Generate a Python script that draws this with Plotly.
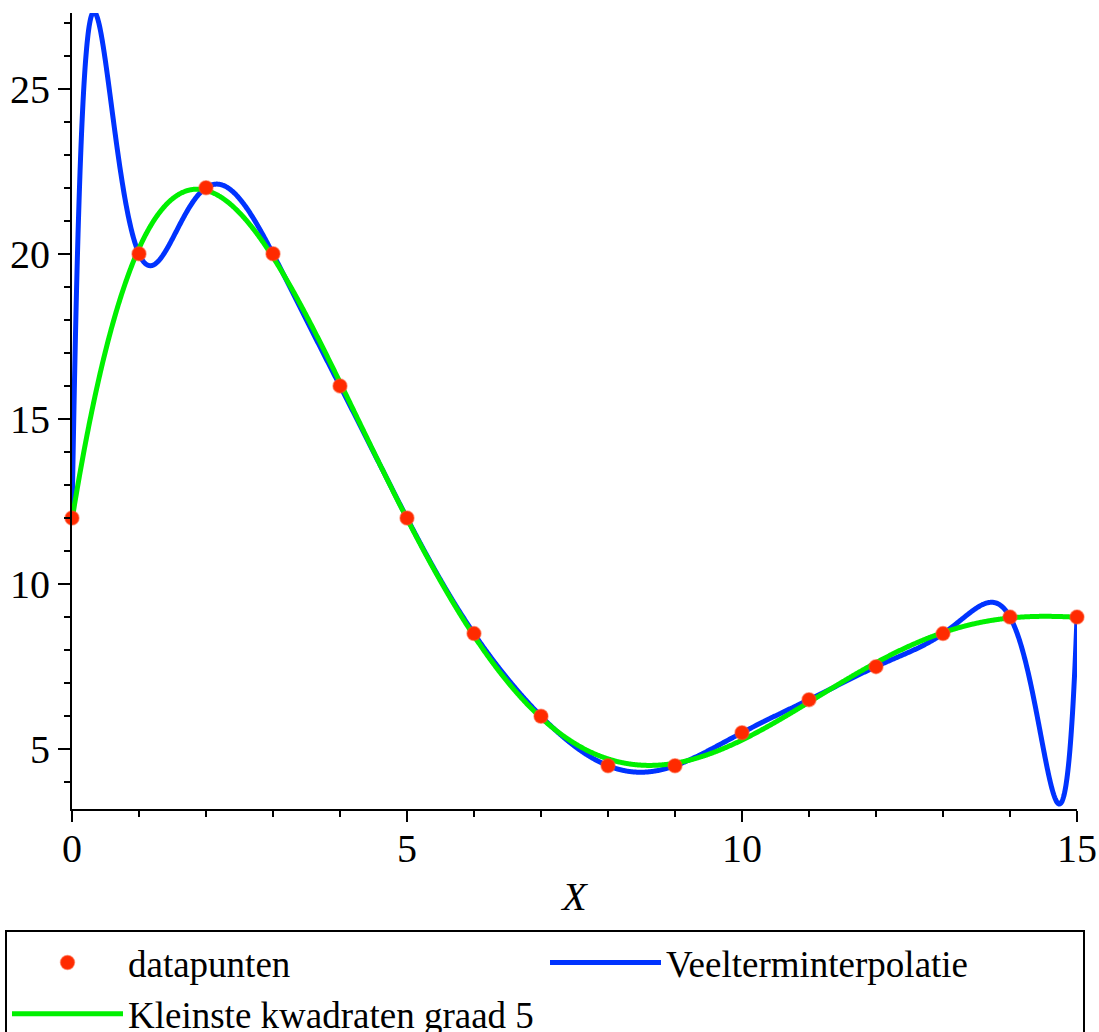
import numpy as np
import plotly.graph_objects as go

# data
x_data = [0, 1, 2, 3, 4, 5, 6, 7, 8, 9, 10, 11, 12, 13, 14, 15]
y_data = [12, 20, 22, 20, 16, 12, 8.5, 6, 4.5, 4.5, 5.5, 6.5, 7.5, 8.5, 9, 9]
names = ["datapunten", "Veelterminterpolatie", "Kleinste kwadraten graad 5"]
x_ticks = [0, 5, 10, 15]
y_ticks = [5, 10, 15, 20, 25]

xd = np.array(x_data, float)
yd = np.array(y_data, float)
xs = np.linspace(xd.min(), xd.max(), 2000)

# polynomial interpolation (degree n-1) and least squares degree 5
p_interp = np.polynomial.Polynomial.fit(xd, yd, len(xd) - 1)
p_ls = np.polynomial.Polynomial.fit(xd, yd, 5)

FONT = "Liberation Serif, Times New Roman, serif"

fig = go.Figure()
fig.add_trace(go.Scatter(x=xs, y=p_interp(xs), mode="lines", name=names[1],
                         line=dict(color="#0033ff", width=5, simplify=False), legendrank=2))
fig.add_trace(go.Scatter(x=xs, y=p_ls(xs), mode="lines", name=names[2],
                         line=dict(color="#00f000", width=5, simplify=False), legendrank=3))
fig.add_trace(go.Scatter(x=x_data, y=y_data, mode="markers", name=names[0],
                         marker=dict(color="#ff2a00", size=14,
                                     line=dict(color="rgba(255,80,40,0.5)", width=1.5)),
                         legendrank=1, cliponaxis=False))

fig.update_layout(
    width=1099, height=1032,
    margin=dict(l=72, r=22, t=13, b=223, autoexpand=False),
    paper_bgcolor="white", plot_bgcolor="white",
    font=dict(family=FONT, size=40, color="black"),
    showlegend=True,
    legend=dict(
        orientation="h",
        x=-67 / 1005, y=-(930 - 809) / 796, xanchor="left", yanchor="top",
        bordercolor="black", borderwidth=2,
        font=dict(family=FONT, size=37, color="black"),
        itemwidth=111,
        entrywidth=412, entrywidthmode="pixels",
        traceorder="normal",
        tracegroupgap=0,
    ),
)

fig.update_xaxes(
    range=[0, 15], tickvals=x_ticks, ticktext=[str(v) for v in x_ticks],
    showgrid=False, zeroline=False, automargin=False,
    showline=True, linecolor="black", linewidth=2,
    ticks="outside", ticklen=11, tickwidth=2, tickcolor="black",
    ticklabelstandoff=-8,
    minor=dict(dtick=1, ticks="outside", ticklen=6, tickwidth=2, tickcolor="black", showgrid=False),
    tickfont=dict(family=FONT, size=40),
    title=dict(text="<i>X</i>", font=dict(family=FONT, size=40), standoff=12),
)
fig.update_yaxes(
    range=[3.19, 27.29], tickvals=y_ticks, ticktext=[str(v) for v in y_ticks],
    showgrid=False, zeroline=False, automargin=False,
    showline=True, linecolor="black", linewidth=2,
    ticks="outside", ticklen=12, tickwidth=2, tickcolor="black",
    minor=dict(dtick=1, ticks="outside", ticklen=6, tickwidth=2, tickcolor="black", showgrid=False),
    tickfont=dict(family=FONT, size=40),
)

fig.write_html("out.html", config={"displayModeBar": False},
               post_script="document.body.style.margin='0';")
